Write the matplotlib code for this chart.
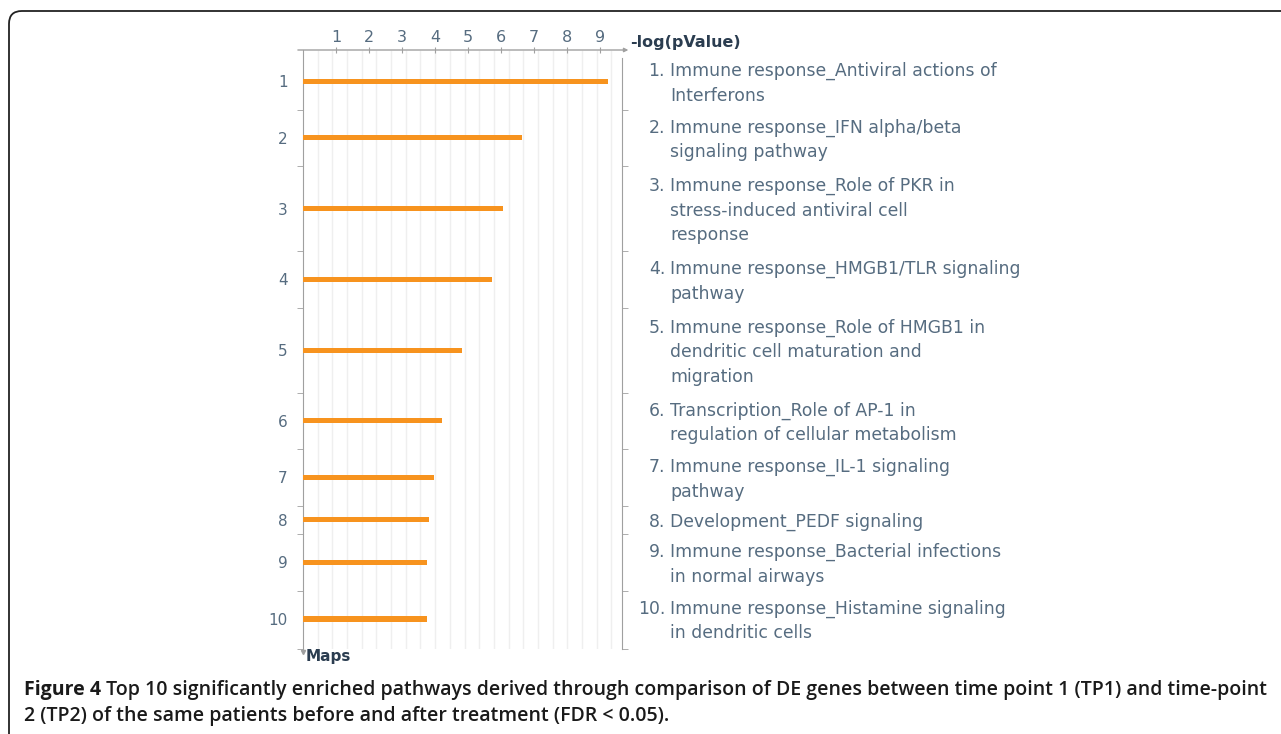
import numpy as np
import matplotlib
matplotlib.use("Agg")
import matplotlib.pyplot as plt
from matplotlib.patches import FancyBboxPatch
from matplotlib.transforms import blended_transform_factory

ranks = ["1", "2", "3", "4", "5", "6", "7", "8", "9", "10"]
neg_log_p = [9.23, 6.64, 6.07, 5.74, 4.81, 4.22, 3.97, 3.82, 3.76, 3.75]
pathways = [
    ["Immune response_Antiviral actions of", "Interferons"],
    ["Immune response_IFN alpha/beta", "signaling pathway"],
    ["Immune response_Role of PKR in", "stress-induced antiviral cell", "response"],
    ["Immune response_HMGB1/TLR signaling", "pathway"],
    ["Immune response_Role of HMGB1 in", "dendritic cell maturation and", "migration"],
    ["Transcription_Role of AP-1 in", "regulation of cellular metabolism"],
    ["Immune response_IL-1 signaling", "pathway"],
    ["Development_PEDF signaling"],
    ["Immune response_Bacterial infections", "in normal airways"],
    ["Immune response_Histamine signaling", "in dendritic cells"],
]
x_ticks = [1, 2, 3, 4, 5, 6, 7, 8, 9]
caption_bold = "Figure 4"
caption_rest = (" Top 10 significantly enriched pathways derived through comparison of DE genes "
                "between time point 1 (TP1) and time-point")
caption_line2 = "2 (TP2) of the same patients before and after treatment (FDR < 0.05)."

W, H = 1281, 734
text_col = "#566c80"
dark_col = "#2b3d50"
axis_col = "#a0a0a0"
bar_col = "#f7931e"

fig = plt.figure(figsize=(W / 100, H / 100), dpi=100)
fig.patch.set_facecolor("white")

# rows take as many "lines" as their label has
nlines = [len(p) for p in pathways]
bounds = np.concatenate([[0], np.cumsum(nlines)])
centers = (bounds[:-1] + bounds[1:]) / 2.0

px_line = 28.3
ax_top, ax_bot = 50, 649
y_top = -(53 - ax_top) / px_line
y_bot = (ax_bot - 53) / px_line
x_max = 9.667

ax = fig.add_axes([303 / W, (H - ax_bot) / H, 319 / W, (ax_bot - ax_top) / H])
ax.set_xlim(0, x_max)
ax.set_ylim(y_bot, y_top)

# light vertical grid
step = 0.445
ax.vlines(np.arange(step, x_max - 0.1, step), y_bot, y_top, color="#efefef", lw=1, zorder=0)

ax.barh(centers, neg_log_p, height=0.18, color=bar_col, zorder=3)

# spines
ax.spines["top"].set_visible(False)
ax.spines["bottom"].set_visible(False)
ax.spines["left"].set_color(axis_col)
ax.spines["right"].set_color(axis_col)
ax.spines["right"].set_bounds(0.18, y_bot)

# top axis with arrow
ax.annotate("", xy=(1.02, 1), xytext=(-0.016, 1), xycoords="axes fraction",
            arrowprops=dict(arrowstyle="-|>", color=axis_col, lw=1, mutation_scale=6,
                            shrinkA=0, shrinkB=0), annotation_clip=False)
ax.xaxis.tick_top()
ax.set_xticks(x_ticks)
ax.set_xticklabels([str(t) for t in x_ticks])
ax.tick_params(axis="x", direction="inout", length=5, color=axis_col, labelcolor=text_col,
               labelsize=11.5, pad=1)

# row numbers on the left, row boundaries as minor ticks
ax.set_yticks(centers)
ax.set_yticklabels(ranks)
ax.tick_params(axis="y", which="major", length=0, labelcolor=text_col, labelsize=11, pad=11)
ax.set_yticks(list(bounds[1:-1]) + [y_bot], minor=True)
ax.tick_params(axis="y", which="minor", left=True, right=True, direction="out", length=4,
               color=axis_col)

# down arrow at the bottom of the left axis
ax.plot([0], [y_bot + 0.12], marker="v", ms=3, color=axis_col, clip_on=False)

# pathway labels on the right
tr = blended_transform_factory(ax.transAxes, ax.transData)
line_gap = 24.5 / px_line
for rank, lines, yc in zip(ranks, pathways, centers):
    n = len(lines)
    for i, ln in enumerate(lines):
        y = yc + (i - (n - 1) / 2.0) * line_gap + 0.07
        ax.text(1.1505, y, ln, transform=tr, ha="left", va="center", fontsize=12.4,
                color=text_col, clip_on=False)
    y0 = yc - (n - 1) / 2.0 * line_gap + 0.07
    ax.text(1.135, y0, rank + ".", transform=tr, ha="right", va="center", fontsize=12.4,
            color=text_col, clip_on=False)

fig.text(630 / W, 1 - 42 / H, "-log(pValue)", ha="left", va="center", fontsize=11.5,
         fontweight="bold", color=dark_col)
fig.text(306 / W, 1 - 657 / H, "Maps", ha="left", va="center", fontsize=11,
         fontweight="bold", color=dark_col)

# page frame (rounded top-left corner, open right and bottom)
frame = FancyBboxPatch((9 / W, -0.1), 1.2, (H - 11) / H + 0.1,
                       boxstyle="round,pad=0,rounding_size=0.01",
                       transform=fig.transFigure, fill=False, ec="#222222", lw=1.3,
                       mutation_aspect=W / H)
fig.add_artist(frame)

# caption
cap_font = "Open Sans"
cap_size = 14.05
t1 = fig.text(24 / W, 1 - 690 / H, caption_bold, ha="left", va="center", fontsize=cap_size,
              fontweight="bold", family=cap_font, color="#1a1a1a")
fig.canvas.draw()
bb = t1.get_window_extent()
fig.text(bb.x1 / W, 1 - 690 / H, caption_rest, ha="left", va="center", fontsize=cap_size,
         fontweight="semibold", family=cap_font, color="#1a1a1a")
fig.text(24 / W, 1 - 716 / H, caption_line2, ha="left", va="center", fontsize=cap_size,
         fontweight="semibold", family=cap_font, color="#1a1a1a")

fig.savefig("out.png", dpi=100)
